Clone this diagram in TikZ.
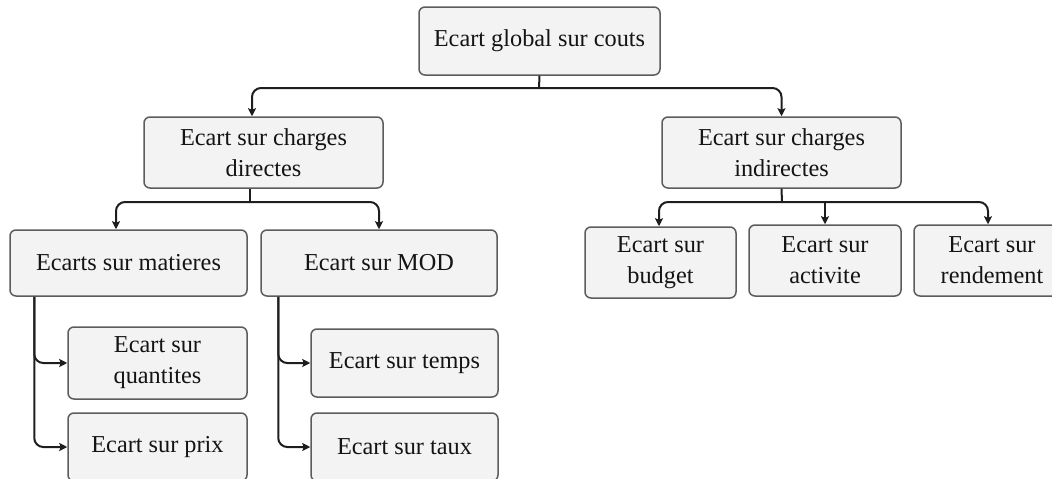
\documentclass[tikz,border=0pt]{standalone}
\usepackage{fontspec}
\setmainfont{Liberation Serif}
\usetikzlibrary{arrows.meta}
\definecolor{boxfill}{HTML}{F3F3F3}
\definecolor{boxline}{HTML}{5C5C5C}
\definecolor{linkcol}{HTML}{1E1E1E}
\begin{document}
\begin{tikzpicture}[x=1pt,y=-1pt,
  card/.style={draw=boxline, fill=boxfill, rounded corners=6pt, line width=1.5pt,
    align=center, inner sep=0pt, text=black!92,
    font=\fontsize{24.3}{31}\selectfont},
  link/.style={draw=linkcol, line width=2pt, rounded corners=9pt},
  arrowlink/.style={link, -{Stealth[length=8pt,width=8pt,inset=1.5pt]}}
]
\useasboundingbox (0,0) rectangle (1052,479);
\clip (0,0) rectangle (1052,479);

% boxes
\node[card, minimum width=241pt, minimum height=68pt] (top) at (539.5,41) {Ecart global sur couts};
\node[card, minimum width=239pt, minimum height=71pt] (dir) at (263.5,152.5) {Ecart sur charges\\directes};
\node[card, minimum width=239pt, minimum height=71pt] (ind) at (781.5,152.5) {Ecart sur charges\\indirectes};
\node[card, minimum width=237pt, minimum height=66pt] (mat) at (128.5,263) {Ecarts sur matieres};
\node[card, minimum width=236pt, minimum height=66pt] (mod) at (379,263) {Ecart sur MOD};
\node[card, minimum width=179pt, minimum height=72pt] (qua) at (157.5,363) {Ecart sur\\quantites};
\node[card, minimum width=179pt, minimum height=68pt] (pri) at (157.5,447) {Ecart sur prix};
\node[card, minimum width=187pt, minimum height=68pt] (tem) at (404.5,363) {Ecart sur temps};
\node[card, minimum width=187pt, minimum height=68pt] (tau) at (404.5,447) {Ecart sur taux};
\node[card, minimum width=151pt, minimum height=71pt] (bud) at (660.5,262.5) {Ecart sur\\budget};
\node[card, minimum width=152pt, minimum height=71pt] (act) at (825,260.5) {Ecart sur\\activite};
\node[card, minimum width=156pt, minimum height=71pt] (ren) at (992,260.5) {Ecart sur\\rendement};

% top level split
\coordinate (j1) at (539,88);
\draw[link] (top.south) -- (j1);
\draw[arrowlink] (j1) -| ([xshift=-11.5pt]dir.north);
\draw[arrowlink] (j1) -| (ind.north);

% direct costs split
\coordinate (j2) at (250,202);
\draw[link] ([xshift=-13.5pt]dir.south) -- (j2);
\draw[arrowlink] (j2) -| ([xshift=-12.5pt]mat.north);
\draw[arrowlink] (j2) -| (mod.north);

% indirect costs split
\coordinate (j3) at (782,202);
\draw[link] (ind.south) -- (j3);
\draw[arrowlink] (j3) -| ([xshift=-1.5pt]bud.north);
\draw[arrowlink] (j3) -| ([xshift=-4pt]ren.north);
\draw[arrowlink] (act.north |- j3) -- (act.north);

% material variances
\draw[arrowlink] ([xshift=25pt]mat.south west) |- (qua.west);
\draw[arrowlink] ([xshift=25pt]mat.south west) |- (pri.west);

% labour variances
\draw[arrowlink] ([xshift=18pt]mod.south west) |- (tem.west);
\draw[arrowlink] ([xshift=18pt]mod.south west) |- (tau.west);
\end{tikzpicture}
\end{document}
